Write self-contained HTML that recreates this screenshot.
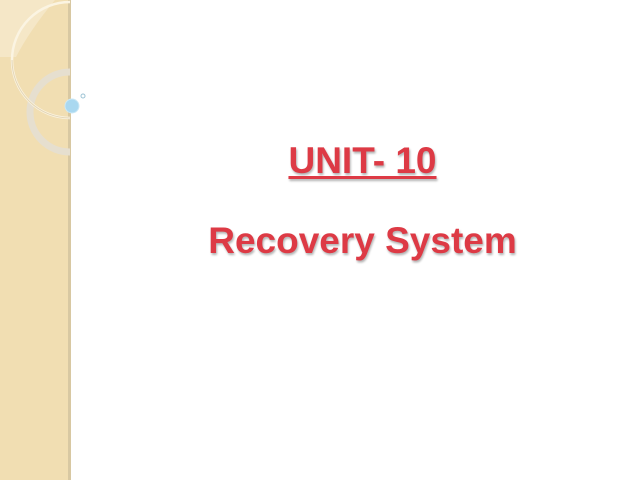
<!DOCTYPE html>
<html><head><style>
body{margin:0;width:640px;height:480px;background:#fff;position:relative;overflow:hidden;font-family:"Liberation Sans",Arial,sans-serif}
.t{position:absolute;left:0;width:725px;text-align:center;font-weight:bold;color:#dd3a45;text-shadow:1px 2px 2px rgba(0,0,0,0.3)}
</style></head><body>
<svg width="640" height="480" style="position:absolute;left:0;top:0">
<defs><clipPath id="c"><rect x="0" y="0" width="70" height="480"/></clipPath></defs>
<rect x="0" y="0" width="70" height="480" fill="#f1deb2"/>
<rect x="68" y="0" width="3" height="480" fill="#d8c8a2"/>
<g clip-path="url(#c)">
<path d="M0 0H55Q30 30 16 57H0Z" fill="#f6e9cc" opacity="0.8"/>
<circle cx="70" cy="112" r="40" fill="none" stroke="#e6dfcf" stroke-width="7"/>
<circle cx="70" cy="60" r="58" fill="none" stroke="#fbf4e2" stroke-width="2.5"/>
<path d="M12 60A58 58 0 0 0 70 118" fill="none" stroke="#d4c19a" stroke-width="1" opacity="0.6"/>
</g>
<circle cx="72" cy="106" r="7" fill="#a9d8f0" stroke="#cbe8f5" stroke-width="1"/>
<circle cx="83" cy="96" r="2" fill="none" stroke="#9cc3d4" stroke-width="1"/>
</svg>
<div class="t" style="top:140px;font-size:37px;"><span style="text-decoration:underline;text-decoration-thickness:3px;text-underline-offset:3px">UNIT- 10</span></div>
<div class="t" style="top:220px;font-size:37px;">Recovery System</div>
</body></html>
